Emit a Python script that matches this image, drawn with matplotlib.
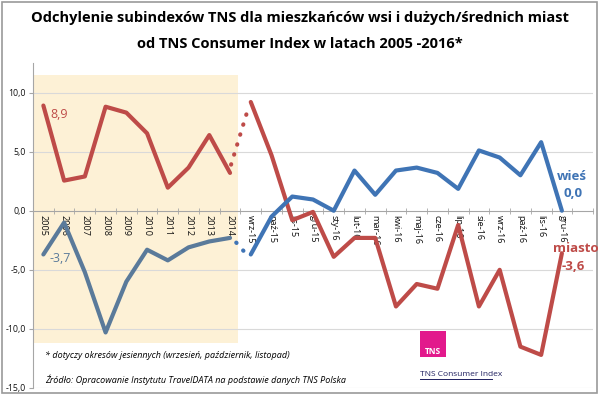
import matplotlib.pyplot as plt
from matplotlib.patches import Rectangle
from matplotlib.lines import Line2D

# --- data ---
years = ["2005", "2006", "2007", "2008", "2009", "2010", "2011", "2012", "2013", "2014"]
months = ["wrz-15", "paź-15", "lis-15", "gru-15", "sty-16", "lut-16", "mar-16", "kwi-16",
          "maj-16", "cze-16", "lip-16", "sie-16", "wrz-16", "paź-16", "lis-16", "gru-16"]

miasto_years = [8.9, 2.55, 2.9, 8.8, 8.3, 6.55, 1.95, 3.65, 6.4, 3.2]
wies_years = [-3.7, -1.0, -5.2, -10.3, -6.0, -3.3, -4.2, -3.1, -2.6, -2.3]

miasto_months = [9.2, 4.7, -0.8, -0.1, -3.9, -2.3, -2.3, -8.1, -6.2, -6.6,
                 -1.2, -8.1, -5.0, -11.5, -12.2, -3.6]
wies_months = [-3.7, -0.5, 1.2, 0.95, 0.0, 3.4, 1.35, 3.4, 3.65, 3.2,
               1.85, 5.1, 4.5, 3.0, 5.8, 0.0]

yticks = [-15, -10, -5, 0, 5, 10]

RED = "#BE4B48"
BLUE = "#3F74B5"
BLUE_OLD = "#5A7A9A"

W, H = 600, 395
fig = plt.figure(figsize=(6.0, 3.95), dpi=100)
plt.rcParams['font.family'] = ['Open Sans', 'DejaVu Sans']


def fx(px):
    return px / W


def fy(py):
    return 1 - py / H


ax = fig.add_axes([fx(33), fy(388), fx(593) - fx(33), fy(63) - fy(388)])

labels = years + months
n_y = len(years)
x_years = list(range(n_y))
x_months = list(range(n_y, n_y + len(months)))

# shaded yearly period
ax.add_patch(Rectangle((-0.5, -11.2), 9.9, 22.7, facecolor="#FDF1D6", edgecolor="none", zorder=0))

for v in yticks:
    if v != 0:
        ax.axhline(v, color="#D9D9D9", lw=0.8, zorder=0.5)

ax.plot(x_years, miasto_years, color=RED, lw=3, solid_capstyle="round", zorder=3)
ax.plot(x_months, miasto_months, color=RED, lw=3, solid_capstyle="round", zorder=3)
ax.plot(x_years, wies_years, color=BLUE_OLD, lw=3, solid_capstyle="round", zorder=3)
ax.plot(x_months, wies_months, color=BLUE, lw=3, solid_capstyle="round", zorder=3)

# dotted connectors between 2014 and wrz-15
ax.plot([x_years[-1] + 0.05, x_months[0] - 0.1], [miasto_years[-1] + 0.7, miasto_months[0] - 0.4],
        color=RED, lw=3, linestyle=(0, (0.1, 2.4)), dash_capstyle="round", zorder=3)
ax.plot([x_years[-1] + 0.3, x_months[0] - 0.3], [wies_years[-1] - 0.4, wies_months[0] + 0.2],
        color=BLUE, lw=3, linestyle=(0, (0.1, 2.4)), dash_capstyle="round", zorder=3)

ax.set_xlim(-0.5, 26.5)
ax.set_ylim(-15, 12.5)
ax.set_yticks(yticks)
ax.set_yticklabels([f"{v:.1f}".replace(".", ",") for v in yticks], fontsize=6.3, color="#111111")

ax.spines["bottom"].set_position(("data", 0))
ax.spines["bottom"].set_color("#A6A6A6")
ax.spines["left"].set_color("#A6A6A6")
ax.spines["top"].set_visible(False)
ax.spines["right"].set_visible(False)

ax.set_xticks(range(len(labels)))
ax.set_xticklabels(labels, rotation=-90, fontsize=6.6, color="#111111", va="top")
ax.tick_params(axis="x", which="major", length=0, pad=3)
ax.set_xticks([i + 0.5 for i in range(-1, 27)], minor=True)
ax.tick_params(axis="x", which="minor", length=4, direction="inout", color="#A6A6A6")
ax.tick_params(axis="y", length=3, color="#A6A6A6", pad=2)
ax.patch.set_alpha(0)

# value labels
fig.text(fx(50), fy(118), "8,9", color=RED, fontsize=9)
fig.text(fx(50), fy(262), "-3,7", color=BLUE_OLD, fontsize=9)
fig.text(fx(557), fy(180), "wieś", color=BLUE, fontsize=9.5, fontweight="bold")
fig.text(fx(564), fy(197), "0,0", color=BLUE, fontsize=9.5, fontweight="bold")
fig.text(fx(553), fy(252), "miasto", color=RED, fontsize=9.5, fontweight="bold")
fig.text(fx(562), fy(270), "-3,6", color=RED, fontsize=9.5, fontweight="bold")

# title
fig.text(0.5, fy(18), "Odchylenie subindexów TNS dla mieszkańców wsi i dużych/średnich miast",
         ha="center", va="center", fontsize=10.5, fontweight="bold")
fig.text(0.5, fy(44), "od TNS Consumer Index w latach 2005 -2016*",
         ha="center", va="center", fontsize=10.5, fontweight="bold")

# notes
fig.text(fx(45), fy(355), "* dotyczy okresów jesiennych (wrzesień, październik, listopad)",
         fontsize=6.5, style="italic", va="center")
fig.text(fx(45), fy(380), "Źródło: Opracowanie Instytutu TravelDATA na podstawie danych TNS Polska",
         fontsize=6.5, style="italic", va="center")

# TNS logo box
fig.add_artist(Rectangle((fx(420), fy(357)), fx(26), fy(331) - fy(357), transform=fig.transFigure,
                         facecolor="#E2198C", edgecolor="none"))
fig.text(fx(433), fy(351), "TNS", color="white", fontsize=6, fontweight="bold", ha="center", va="center")
fig.text(fx(420), fy(375), "TNS Consumer Index", color="#1F1F5F", fontsize=6, va="center")
fig.add_artist(Line2D([fx(420), fx(492)], [fy(379), fy(379)], transform=fig.transFigure,
                      color="#1F1F5F", lw=0.7))

# outer frame
fig.add_artist(Rectangle((fx(2), fy(393)), fx(595), fy(2) - fy(393), transform=fig.transFigure,
                         facecolor="none", edgecolor="#9A9A9A", lw=1.2))

fig.savefig("out.png", dpi=100)
